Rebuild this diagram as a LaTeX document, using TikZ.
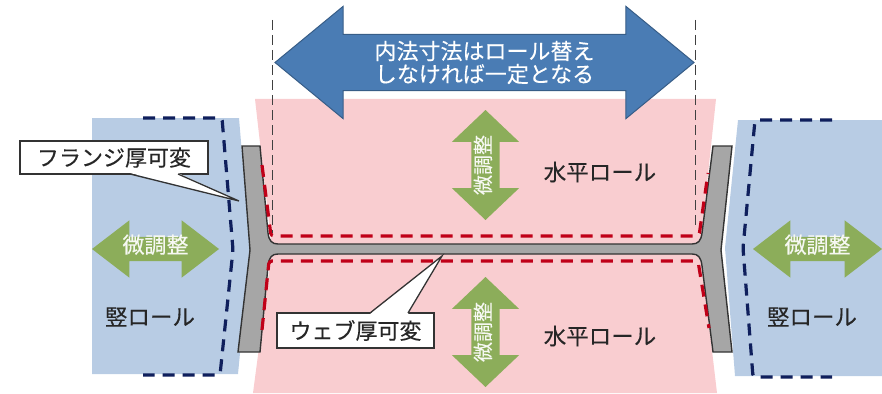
\documentclass[tikz,border=0pt]{standalone}
\usepackage{fontspec}
\setmainfont{Noto Sans CJK JP}[FakeBold=0.25]
\usepackage{xcolor}
\usetikzlibrary{shapes.arrows, positioning}
\definecolor{rollblue}{HTML}{B8CCE4}
\definecolor{rollpink}{HTML}{F9CDD0}
\definecolor{arrowgreen}{HTML}{8CAD5A}
\definecolor{arrowblue}{HTML}{4A7CB4}
\definecolor{navydash}{HTML}{0F1F5C}
\definecolor{reddash}{HTML}{C00018}
\definecolor{beamgray}{HTML}{A6A6A6}

\begin{document}
\begin{tikzpicture}[
    x=1pt, y=-1pt,
    adjust/.style={double arrow, fill=arrowgreen, draw=none, text=white!92!arrowgreen, font=\fontsize{22}{22}\selectfont, minimum height=127pt, double arrow tip angle=75, double arrow head extend=16.5pt, inner xsep=0pt, inner ysep=0pt, text height=16pt, text depth=8pt},
    adjustv/.style={adjust, rotate=90, font=\fontsize{20}{20}\selectfont, minimum height=110pt, double arrow tip angle=93, double arrow head extend=19.5pt, text height=19pt, text depth=9pt},
    widthnote/.style={double arrow, fill=arrowblue, draw=arrowblue!75!black, line width=1pt, text=white, font=\fontsize{22}{23}\selectfont, align=center, minimum height=419pt, double arrow tip angle=79, double arrow head extend=28pt, inner xsep=0pt, inner ysep=6pt},
    rolllabel/.style={font=\fontsize{22.5}{22.5}\selectfont, text=black!85},
    note/.style={draw=black!80, fill=white, line width=1.3pt, font=\fontsize{22}{22}\selectfont, text=black!85, inner sep=0pt},
    navyline/.style={draw=navydash, line width=3.2pt, dash pattern=on 12pt off 8pt, rounded corners=3pt},
    redline/.style={draw=reddash, line width=3.2pt, dash pattern=on 12pt off 8pt, rounded corners=3pt},
    guide/.style={draw=black!75, line width=1pt, dash pattern=on 10pt off 5pt}
]
    \useasboundingbox (0,0) rectangle (882,393);

    % rolls
    \fill[rollpink] (255,99) -- (716,99) -- (700,249) -- (717,393) -- (253,393) -- (272,249) -- cycle;
    \fill[rollblue] (92,118) -- (239,118) -- (250,250) -- (238,374) -- (92,374) -- cycle;
    \fill[rollblue] (738,120) -- (882,120) -- (882,376) -- (735,376) -- (725,248) -- cycle;

    % shifted roll outlines
    \draw[navyline] (143,118) -- (222,118) -- (233,250) -- (220,375) -- (143,375);
    \draw[navyline] (832,120) -- (755,120) -- (743,248) -- (753,377) -- (832,377);

    % beam
    \draw[fill=beamgray, draw=black!80, line width=1.4pt, rounded corners=0pt]
        (242,146) -- (260,146) -- (268,233) .. controls (269,241) and (272,244) .. (278,244)
        -- (692,244) .. controls (698,244) and (701,241) .. (702,233) -- (713,146) -- (732,146)
        -- (721,250) -- (732,352) -- (713,352) -- (702,266) .. controls (701,257) and (698,254) .. (692,254)
        -- (278,254) .. controls (272,254) and (269,257) .. (268,266) -- (260,352) -- (238,352)
        -- (250,250) -- cycle;

    % web and flange thickness
    \draw[redline] (262,165) -- (271,236) -- (699,236) -- (708,173);
    \draw[redline] (262,330) -- (269,261) -- (698,261) -- (709,328);

    % fixed inner width
    \draw[guide] (272,20) -- (272,233);
    \draw[guide] (695,20) -- (695,228);
    \node[widthnote] (inner) at (484.5,62.5) {内法寸法はロール替え\\しなければ一定となる};

    % adjusting arrows
    \node[adjust] (adjleft) at (155.5,249) {微調整};
    \node[adjust, minimum height=129pt] (adjright) at (817.5,249) {微調整};
    \node[adjustv] (adjtop) at (485.5,165) {微調整};
    \node[adjustv] (adjbottom) at (485.5,332) {微調整};

    \node[rolllabel] (hrolltop) at (600,172) {水平ロール};
    \node[rolllabel] (hrollbottom) at (600,336) {水平ロール};
    \node[rolllabel] (vrollleft) at (150,317) {竪ロール};
    \node[rolllabel] (vrollright) at (812,317) {竪ロール};

    % callouts
    \node[note, minimum width=188pt, minimum height=33pt] (flangenote) at (114,157.5) {フランジ厚可変};
    \coordinate (flangetip) at (239,201);
    \fill[white] (130,173) -- (flangetip) -- (178,173) -- cycle;
    \draw[black!80, line width=1.3pt] (130,174) -- (flangetip) -- (178,174);

    \node[note, minimum width=157pt, minimum height=35pt] (webnote) at (355.5,330.5) {ウェブ厚可変};
    \coordinate (webtip) at (442,256);
    \fill[white] (370,314) -- (webtip) -- (408,314) -- cycle;
    \draw[black!80, line width=1.3pt] (370,313) -- (webtip) -- (408,313);
\end{tikzpicture}
\end{document}
